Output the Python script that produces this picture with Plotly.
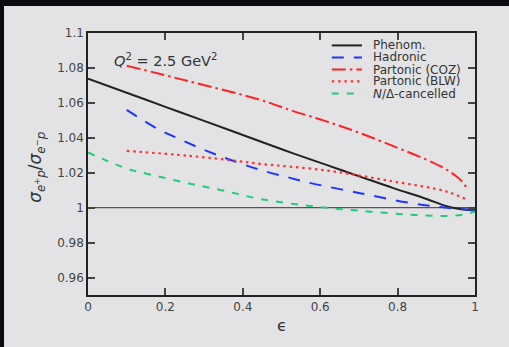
import plotly.graph_objects as go

# ---- data ----
eps_phen = [0.0, 0.1, 0.2, 0.3, 0.444, 0.53, 0.616, 0.703, 0.789, 0.875, 0.927, 0.96, 1.0]
phenom = [1.0738, 1.0658, 1.0577, 1.0497, 1.0380, 1.0311, 1.0245, 1.0178, 1.0112, 1.0050, 1.0008, 0.9993, 0.9985]

eps_had = [0.1, 0.18, 0.24, 0.3, 0.36, 0.444, 0.52, 0.573, 0.703, 0.832, 0.91, 0.961, 1.0]
hadronic = [1.056, 1.0451, 1.0389, 1.0331, 1.0280, 1.0217, 1.0172, 1.0142, 1.0083, 1.0027, 1.0004, 0.9991, 0.9986]

eps_coz = [0.1, 0.26, 0.444, 0.53, 0.616, 0.703, 0.789, 0.875, 0.927, 0.961, 0.98]
coz = [1.0813, 1.0724, 1.0618, 1.0553, 1.0494, 1.0427, 1.0352, 1.0274, 1.0217, 1.0162, 1.0110]

eps_blw = [0.1, 0.26, 0.39, 0.444, 0.616, 0.789, 0.927, 0.98]
blw = [1.0325, 1.0297, 1.0266, 1.0251, 1.0213, 1.0150, 1.0092, 1.0045]

eps_nd = [0.0, 0.043, 0.103, 0.172, 0.258, 0.345, 0.444, 0.573, 0.703, 0.832, 0.927, 0.97, 1.0]
ndelta = [1.0316, 1.0274, 1.0222, 1.0184, 1.0140, 1.0100, 1.0050, 1.0010, 0.9982, 0.9960, 0.9953, 0.9960, 0.9978]

y_ticks = [0.96, 0.98, 1.0, 1.02, 1.04, 1.06, 1.08, 1.1]
y_tick_text = ["0.96", "0.98", "1", "1.02", "1.04", "1.06", "1.08", "1.1"]
x_ticks = [0, 0.2, 0.4, 0.6, 0.8, 1.0]
x_tick_text = ["0", "0.2", "0.4", "0.6", "0.8", "1"]

names = ["Phenom.", "Hadronic", "Partonic (COZ)", "Partonic (BLW)", "<i>N</i>/Δ-cancelled"]
colors = ["#222222", "#2233ff", "#ff2222", "#ff3333", "#22cc77"]
dashes = ["solid", "12px,10px", "14px,4px,2.5px,4px", "2.5px,3.8px", "7px,8px"]
widths = [2, 2, 2, 2.2, 2]

series = [(eps_phen, phenom), (eps_had, hadronic), (eps_coz, coz), (eps_blw, blw), (eps_nd, ndelta)]

FONT = "DejaVu Sans"
BG = "#e3e3e6"
DARK = "#0c0b12"
fig = go.Figure()

for (xs, ys), c, d, w, n in zip(series, colors, dashes, widths, names):
    fig.add_trace(go.Scatter(x=xs, y=ys, mode="lines", name=n,
                             line=dict(color=c, dash=d, width=w, shape="spline", smoothing=1.0),
                             showlegend=False))

# horizontal reference line at 1
fig.add_shape(type="line", xref="x", yref="y", x0=0, x1=1, y0=1, y1=1,
              line=dict(color="#555555", width=1.3), layer="below")

# dark frame bands (top and left)
fig.add_shape(type="rect", xref="paper", yref="paper", x0=-0.3, x1=1.2, y0=1.103, y1=1.3,
              fillcolor=DARK, line=dict(width=0), layer="below")
fig.add_shape(type="rect", xref="paper", yref="paper", x0=-0.3, x1=-0.217, y0=-0.3, y1=1.3,
              fillcolor=DARK, line=dict(width=0), layer="below")

# manual legend
leg_x0, leg_x1, leg_tx = 0.630, 0.708, 0.730
leg_y = [1.0929, 1.0860, 1.0791, 1.0723, 1.0653]
for c, d, w, n, yy in zip(colors, dashes, widths, names, leg_y):
    fig.add_shape(type="line", xref="x", yref="y", x0=leg_x0, x1=leg_x1, y0=yy, y1=yy,
                  line=dict(color=c, dash=d, width=w))
    fig.add_annotation(x=leg_tx, y=yy, xref="x", yref="y", text=n, showarrow=False,
                       xanchor="left", yanchor="middle",
                       font=dict(family=FONT, size=12, color="#333333"))

fig.add_annotation(x=0.062, y=1.0847, xref="x", yref="y",
                   text="<i>Q</i><sup>2</sup> = 2.5 GeV<sup>2</sup>", showarrow=False,
                   xanchor="left", yanchor="middle",
                   font=dict(family=FONT, size=14.5, color="#333333"))

fig.add_annotation(x=-0.132, y=0.489, xref="paper", yref="paper",
                   text="<i>σ</i><sub><i>e</i><sup>+</sup><i>p</i></sub>/<i>σ</i><sub><i>e</i><sup>−</sup><i>p</i></sub>",
                   showarrow=False, textangle=-90, xanchor="center", yanchor="middle",
                   font=dict(family=FONT, size=17, color="#333333"))

fig.add_annotation(x=0.5, y=-0.115, xref="paper", yref="paper", text="ϵ",
                   showarrow=False, xanchor="center", yanchor="middle",
                   font=dict(family=FONT, size=16, color="#333333"))

axis_common = dict(showgrid=False, zeroline=False, showline=True, linecolor="#222222",
                   linewidth=1.5, mirror="ticks", ticks="inside", ticklen=7,
                   tickcolor="#444444", tickwidth=1.5,
                   tickfont=dict(family=FONT, size=12, color="#444444"))

fig.update_xaxes(range=[0, 1], tickvals=x_ticks, ticktext=x_tick_text, **axis_common)
fig.update_yaxes(range=[0.95, 1.1], tickvals=y_ticks, ticktext=y_tick_text, **axis_common)

fig.update_layout(width=509, height=347, margin=dict(l=88, r=34, t=33, b=52),
                  paper_bgcolor=BG, plot_bgcolor=BG,
                  showlegend=False)

fig.write_html("out.html", config={"displayModeBar": False},
               post_script=("document.body.style.margin='0';"
                            "document.body.style.overflow='hidden';"
                            "document.body.style.background='" + BG + "';"
                            "document.documentElement.style.background='" + BG + "';"))
